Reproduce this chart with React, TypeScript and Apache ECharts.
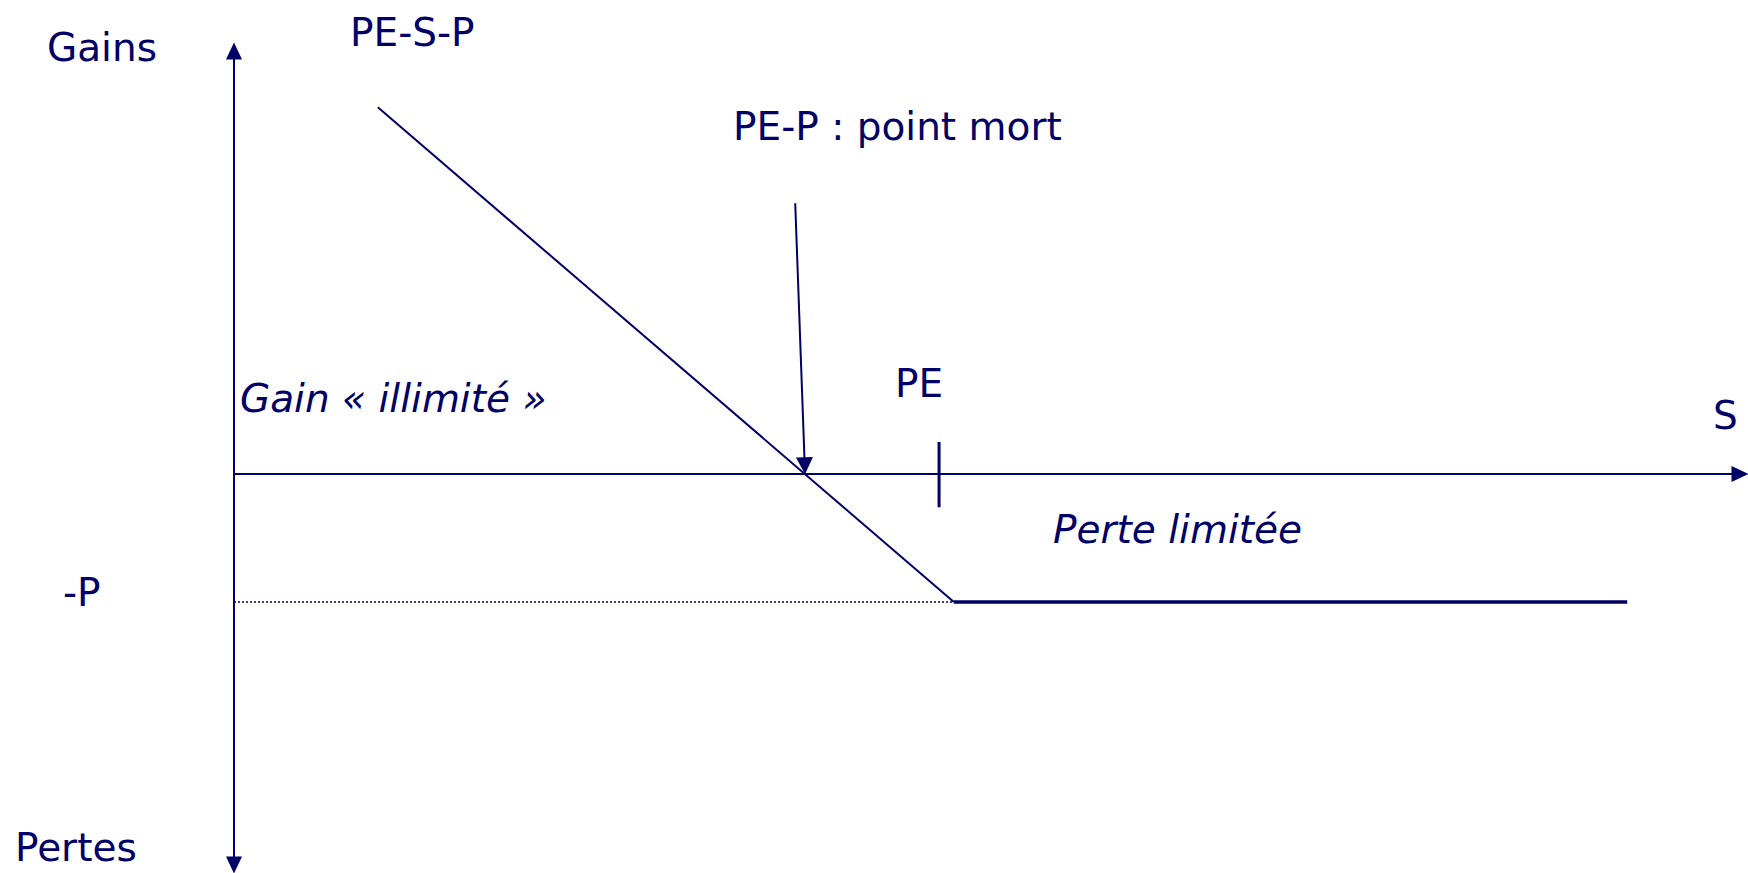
import React, { useEffect, useRef } from "react";
import * as echarts from "echarts";

// Payoff of a long put (schematic units: strike PE = 100, premium P = 20)
const payoffDiagonal: number[][] = [[20.4, 57.3], [102.1, -20]];
const payoffFlat: number[][] = [[102.1, -20], [197.6, -20]];
const premiumLevel: number[][] = [[0, -20], [102.1, -20]];
const strikeTick: number[][] = [[100, 5], [100, -5.2]];
// arrow pointing at the break-even PE-P (its head ends on the S axis)
const breakEvenArrowFrom: number[] = [79.6, 42.3];
const breakEvenArrowTo: number[] = [80.95, 1.3];
const xRange: number[] = [0, 213.6];
const yRange: number[] = [-61.1, 66.1];

const INK = "#000066";
const FONT = "DejaVu Sans";

export default function App() {
  const ref = useRef<HTMLDivElement>(null);
  useEffect(() => {
    if (!ref.current) return;
    const chart = echarts.init(ref.current, null, { renderer: "svg" });
    const txt = (text: string, x: number, y: number, italic = false) => ({
      type: "text",
      x,
      y,
      silent: true,
      style: {
        text,
        fill: INK,
        font: `${italic ? "italic " : ""}39px "${FONT}"`,
        textAlign: "left",
        textVerticalAlign: "middle",
      },
    });
    chart.setOption({
      animation: false,
      backgroundColor: "#ffffff",
      grid: { left: 234, right: 8, top: 51, bottom: 8 },
      xAxis: {
        type: "value",
        min: xRange[0],
        max: xRange[1],
        axisLine: {
          onZero: true,
          symbol: ["none", "triangle"],
          symbolSize: [16, 17],
          lineStyle: { color: INK, width: 2 },
        },
        axisTick: { show: false },
        axisLabel: { show: false },
        splitLine: { show: false },
      },
      yAxis: {
        type: "value",
        min: yRange[0],
        max: yRange[1],
        axisLine: {
          onZero: false,
          symbol: ["triangle", "triangle"],
          symbolSize: [16, 17],
          lineStyle: { color: INK, width: 2 },
        },
        axisTick: { show: false },
        axisLabel: { show: false },
        splitLine: { show: false },
      },
      series: [
        {
          type: "line",
          data: premiumLevel,
          symbol: "none",
          silent: true,
          lineStyle: { color: INK, width: 1.5, type: [2, 2] },
        },
        {
          type: "line",
          data: payoffDiagonal,
          symbol: "none",
          silent: true,
          lineStyle: { color: INK, width: 2 },
          markLine: {
            silent: true,
            symbol: ["none", "triangle"],
            symbolSize: 17,
            label: { show: false },
            lineStyle: { color: INK, width: 2, type: "solid" },
            data: [[{ coord: breakEvenArrowFrom }, { coord: breakEvenArrowTo }]],
          },
        },
        {
          type: "line",
          data: payoffFlat,
          symbol: "none",
          silent: true,
          lineStyle: { color: INK, width: 3.5 },
        },
        {
          type: "line",
          data: strikeTick,
          symbol: "none",
          silent: true,
          lineStyle: { color: INK, width: 3 },
        },
      ],
      graphic: [
        txt("Gains", 47, 47),
        txt("PE-S-P", 350, 32),
        txt("PE-P : point mort", 733, 126),
        txt("Gain « illimité »", 240, 398, true),
        txt("PE", 895, 383),
        txt("S", 1713, 415),
        txt("Perte limitée", 1053, 529, true),
        txt("-P", 63, 592),
        txt("Pertes", 15, 847),
      ],
    });
    return () => chart.dispose();
  }, []);
  return (
    <div
      ref={ref}
      style={{ position: "fixed", left: 0, top: 0, width: 1748, height: 873, background: "#fff" }}
    />
  );
}
